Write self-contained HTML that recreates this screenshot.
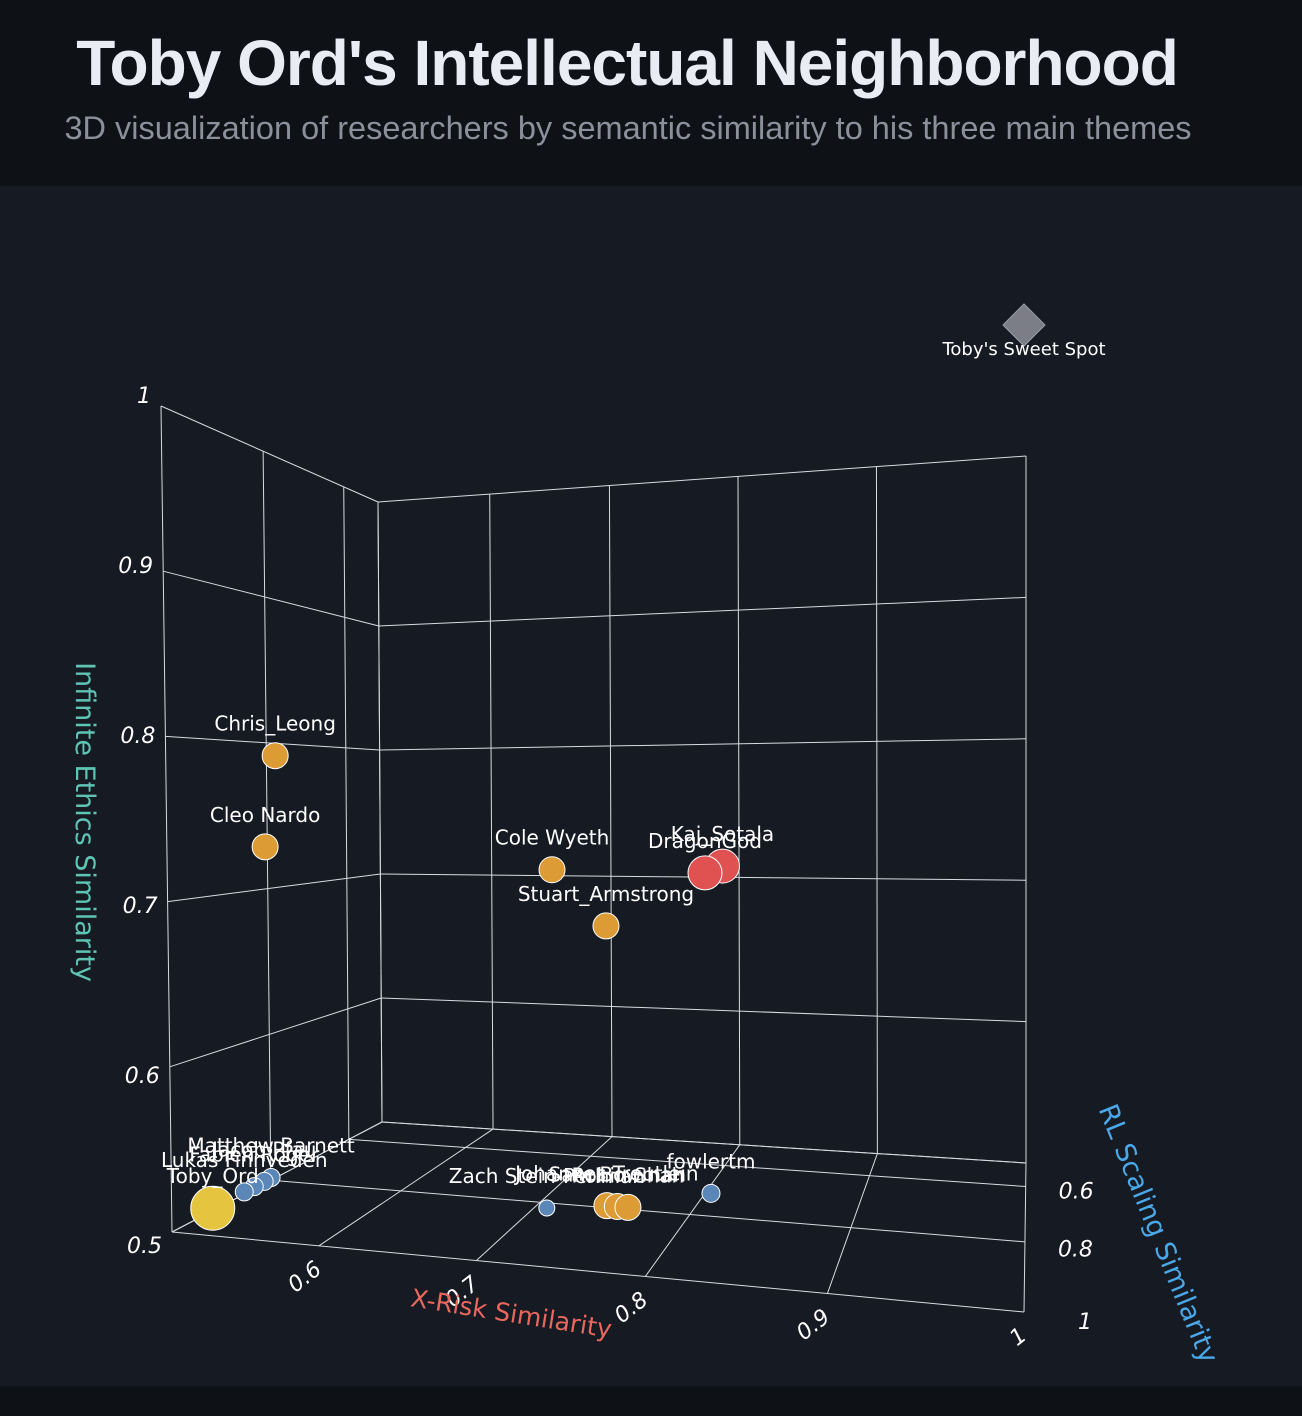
<!DOCTYPE html>
<html><head><meta charset="utf-8"><style>
html,body{margin:0;padding:0;background:#161a22;}
body{width:1302px;height:1416px;position:relative;overflow:hidden;font-family:"Liberation Sans",sans-serif;}
#hdr{position:absolute;left:0;top:0;width:1302px;height:186px;background:#0e1116;}
#title{position:absolute;left:0;width:1254px;top:26px;text-align:center;color:#e9ecf2;font-size:64px;font-weight:bold;letter-spacing:-1px;}
#sub{position:absolute;left:0;width:1256px;top:110px;text-align:center;color:#8b909a;font-size:32.5px;}
#foot{position:absolute;left:0;top:1386px;width:1302px;height:30px;background:#0e1116;}
svg{position:absolute;left:0;top:0;}
</style></head><body>
<div id="hdr">
<div id="title">Toby Ord's Intellectual Neighborhood</div>
<div id="sub">3D visualization of researchers by semantic similarity to his three main themes</div>
</div>
<svg id="chart" width="1302" height="1416"></svg>
<div id="foot"></div>
<script>
const names = ["Toby_Ord","Lukas Finnveden","Fabien Roger","Jacob Pfau","Matthew Barnett","Zach Stein-Perlman","Johannes Treutlein","Sam Bowman","Rohin Shah","fowlertm","Chris_Leong","Cleo Nardo","Cole Wyeth","Stuart_Armstrong","DragonGod","Kaj_Sotala"];
const xRisk = [0.5143,0.5297,0.5297,0.5297,0.5274,0.7197,0.7653,0.7717,0.7782,0.8176,0.5262,0.5179,0.716,0.7588,0.8147,0.8229];
const rlScaling = [0.9615,0.9415,0.921,0.9,0.8785,0.8785,0.921,0.921,0.921,0.8335,0.856,0.856,0.8335,0.8785,0.8335,0.81];
const infEthics = [0.509,0.517,0.517,0.517,0.516,0.511,0.523,0.523,0.523,0.52,0.79,0.73,0.716,0.684,0.715,0.7185];
const groups = ["self","low","low","low","low","low","mid","mid","mid","low","mid","mid","mid","mid","high","high"];
const xTicks = [0.6,0.7,0.8,0.9,1];
const yTicks = [0.6,0.8,1];
const zTicks = [0.5,0.6,0.7,0.8,0.9,1];
const sweetSpot = [1,1,1];

const colors={self:"#e5c540",low:"#5b86b8",mid:"#dd9b35",high:"#e05252"};
const radii={self:22,low:9,mid:13,high:17};
const F={BL:[172,1232],BR:[1024,1312],TL:[161,406],TR:[1024,325]};
const B={BL:[382,1122],BR:[1026,1163],TL:[378,502],TR:[1026,456]};
function lerp(a,b,t){return [a[0]+(b[0]-a[0])*t,a[1]+(b[1]-a[1])*t];}
function warp(s,c){return s/(s+c*(1-s));}
function P(x,y,z){
  const t=warp((1-y)/0.5,0.75),u=warp((x-0.5)/0.5,1.2),v=(z-0.5)/0.5;
  const bl=lerp(F.BL,B.BL,t),br=lerp(F.BR,B.BR,t),tl=lerp(F.TL,B.TL,t),tr=lerp(F.TR,B.TR,t);
  const bot=lerp(bl,br,u),top=lerp(tl,tr,u);
  return lerp(bot,top,v);
}
const svg=document.getElementById('chart');
const NS="http://www.w3.org/2000/svg";
function mk(tag,attrs,parent){const e=document.createElementNS(NS,tag);for(const k in attrs)e.setAttribute(k,attrs[k]);(parent||svg).appendChild(e);return e;}
function line(a,b,name){const e=mk('line',{x1:a[0],y1:a[1],x2:b[0],y2:b[1],stroke:"#d8dbe0","stroke-width":1});

}
const gx=[0.5,0.6,0.7,0.8,0.9,1], gz=[0.5,0.6,0.7,0.8,0.9,1], gy=[0.5,0.6,0.8,1];
gx.forEach(x=>line(P(x,0.5,0.5),P(x,0.5,1),'back-wall-gridline'));
gz.forEach(z=>line(P(0.5,0.5,z),P(1,0.5,z),'back-wall-gridline'));
gy.forEach(y=>line(P(0.5,y,0.5),P(0.5,y,1),'left-wall-gridline'));
gz.forEach(z=>line(P(0.5,0.5,z),P(0.5,1,z),'left-wall-gridline'));
gx.forEach(x=>line(P(x,0.5,0.5),P(x,1,0.5),'floor-gridline'));
gy.forEach(y=>line(P(0.5,y,0.5),P(1,y,0.5),'floor-gridline'));

function text(x,y,s,attrs,name){const e=mk('text',Object.assign({x:x,y:y,fill:"#fff","font-family":"DejaVu Sans, sans-serif","font-size":20},attrs||{}));e.textContent=s;

return e;}
zTicks.forEach(z=>{const p=P(0.5,1,z);const cy=395+(1-z)*1700;text(p[0]-10,cy+8,String(z),{"text-anchor":"end","font-size":22,"font-style":"italic"},'z-tick-label');});
xTicks.forEach(x=>{const p=P(x,1,0.5);text(p[0]+4,p[1]+26,String(x),{"text-anchor":"end","font-size":22,"font-style":"italic",transform:`rotate(-38 ${p[0]+4} ${p[1]+26})`},'x-tick-label');});
yTicks.forEach(y=>{const p=P(1,y,0.5);const d=(1-(1-y)/0.5);text(p[0]+68,p[1]+11+d*6,String(y),{"text-anchor":"end","font-size":22,"font-style":"italic"},'y-tick-label');});
text(510,1322,"X-Risk Similarity",{"text-anchor":"middle","font-size":25,fill:"#e8685e",transform:"rotate(9 510 1322)"},'x-axis-title');
text(76,822,"Infinite Ethics Similarity",{"text-anchor":"middle","font-size":27,fill:"#5ec4b4",transform:"rotate(90 76 822)"},'z-axis-title');
text(1150,1237,"RL Scaling Similarity",{"text-anchor":"middle","font-size":27,fill:"#4aa8e8",transform:"rotate(68 1150 1237)"},'y-axis-title');
const sp=P(sweetSpot[0],sweetSpot[1],sweetSpot[2]);
const dm=mk('polygon',{points:`${sp[0]},${sp[1]-21} ${sp[0]+21},${sp[1]} ${sp[0]},${sp[1]+21} ${sp[0]-21},${sp[1]}`,fill:"#7b7e86",stroke:"#9a9da4","stroke-width":1});


text(sp[0],sp[1]+30,"Toby's Sweet Spot",{"text-anchor":"middle","font-size":18},'sweet-spot-label');
const order=names.map((n,i)=>i).sort((a,b)=>rlScaling[a]-rlScaling[b]);
order.forEach(i=>{
  const p=P(xRisk[i],rlScaling[i],infEthics[i]);
  let r=radii[groups[i]]; if(names[i]==="Zach Stein-Perlman") r=8;
  const c=mk('circle',{cx:p[0],cy:p[1],r:r,fill:colors[groups[i]],stroke:"#fff","stroke-width":1});
  
  
});
names.forEach((n,i)=>{
  const p=P(xRisk[i],rlScaling[i],infEthics[i]);
  text(p[0],p[1]-25,n,{"text-anchor":"middle"},'point-label');
});
</script>
</body></html>
